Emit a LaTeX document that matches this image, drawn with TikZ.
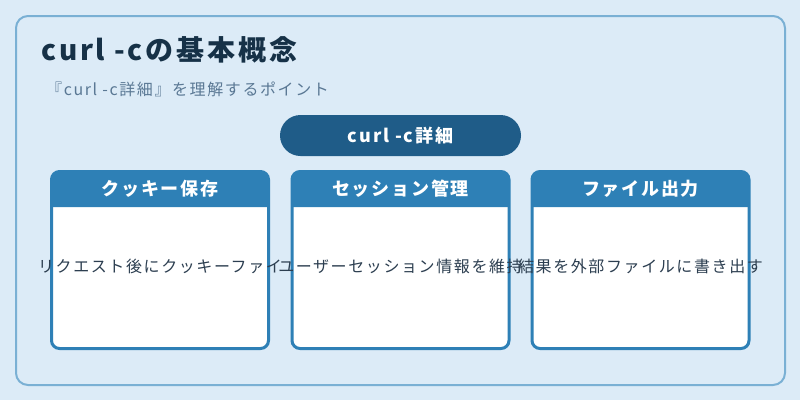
\documentclass[tikz,border=0pt]{standalone}
\usepackage{fontspec}
\newfontfamily\jp{Noto Sans CJK JP}
\newfontfamily\jpls[LetterSpace=10]{Noto Sans CJK JP}
\definecolor{bgc}{HTML}{DCEBF7}
\definecolor{panelc}{HTML}{7AB0D4}
\definecolor{pillc}{HTML}{1F5C88}
\definecolor{hdrc}{HTML}{2E80B6}
\definecolor{titlec}{HTML}{163147}
\definecolor{subc}{HTML}{5A7894}
\definecolor{bodyc}{HTML}{2C3E50}
\tikzset{
  panel/.style={draw=panelc, line width=2pt, fill=bgc, rounded corners=12pt, minimum width=769pt, minimum height=369pt, outer sep=0pt, inner sep=0pt},
  pill/.style={fill=pillc, rounded corners=20.5pt, minimum width=241pt, minimum height=41pt, inner sep=0pt, text=white, font=\jpls\bfseries\fontsize{18}{20}\selectfont},
  bodybox/.style={draw=hdrc, line width=3pt, fill=white, rounded corners=8pt, minimum width=217pt, minimum height=177pt, outer sep=0pt, inner sep=0pt},
  hdrtext/.style={text=white, inner sep=0pt, font=\jpls\bfseries\fontsize{18}{20}\selectfont},
  bodytext/.style={text=bodyc, inner sep=0pt, font=\jpls\fontsize{16}{18}\selectfont},
}
\newcommand{\cardbox}[5]{%
  \node[bodybox] (#1) at (#2,260) {};
  \fill[hdrc] ($(#1.north west)+(0,35.5)$) [rounded corners=8pt] -- (#1.north west) -- (#1.north east) [sharp corners] -- ($(#1.north east)+(0,35.5)$) -- cycle;
  \node[hdrtext] (#1h) at (#2,189) {#3};
  \node[bodytext] (#1t) at (#2,266) {#4};
}
\usetikzlibrary{calc}
\begin{document}
\begin{tikzpicture}[x=1pt,y=-1pt]
\useasboundingbox (0,0) rectangle (800,400);
\fill[bgc] (0,0) rectangle (800,400);
\node[panel] (panel) at (400.5,200.5) {};
\node[anchor=base west, inner sep=0pt, text=titlec, font=\jpls\bfseries\fontsize{28}{32}\selectfont] (title) at (41,60) {curl -cの基本概念};
\node[anchor=base west, inner sep=0pt, text=subc, font=\jpls\fontsize{16}{18}\selectfont] (sub) at (46,95) {『curl -c詳細』を理解するポイント};
\node[pill] (pill) at (400.5,135.5) {curl -c詳細};
\cardbox{b1}{160}{クッキー保存}{リクエスト後にクッキーファイ}{}
\cardbox{b2}{400.5}{セッション管理}{ユーザーセッション情報を維持}{}
\cardbox{b3}{640.5}{ファイル出力}{結果を外部ファイルに書き出す}{}
\end{tikzpicture}
\end{document}
